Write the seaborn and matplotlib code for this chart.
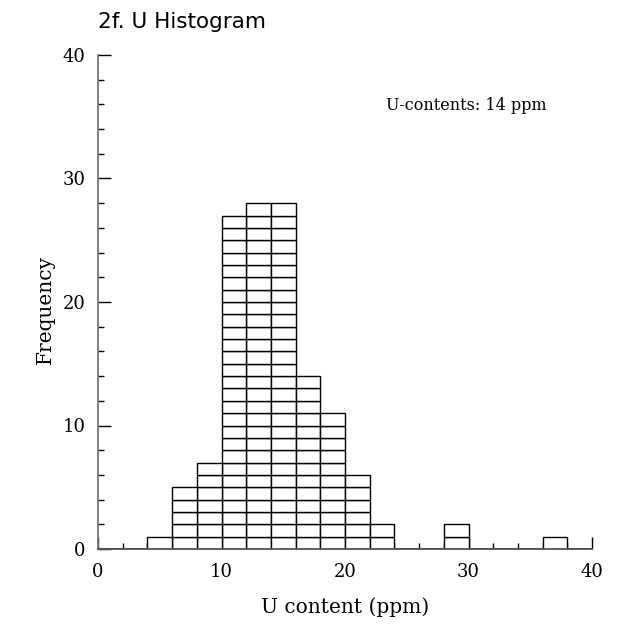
import numpy as np
import pandas as pd
import matplotlib
matplotlib.use("Agg")
import matplotlib.pyplot as plt
import seaborn as sns
from matplotlib.ticker import MultipleLocator

# Histogram of U content: bins of 2 ppm from 0 to 40
bin_edges = [0, 2, 4, 6, 8, 10, 12, 14, 16, 18, 20, 22, 24, 26, 28, 30, 32, 34, 36, 38, 40]
counts = [0, 0, 1, 5, 7, 27, 28, 28, 14, 11, 6, 2, 0, 0, 2, 0, 0, 0, 1, 0]
title = "2f. U Histogram"
note = "U-contents: 14 ppm"
x_label = "U content (ppm)"
y_label = "Frequency"

# One row per sample, placed at its bin centre; "level" is the sample's
# position within the bin so that every sample stacks as its own box.
rows = []
for lo, hi, n in zip(bin_edges[:-1], bin_edges[1:], counts):
    for k in range(n):
        rows.append({"u": (lo + hi) / 2, "level": k})
df = pd.DataFrame(rows)
levels = sorted(df["level"].unique())

sns.set_style("white")
plt.rcParams["font.family"] = ["DejaVu Serif"]
plt.rcParams["text.color"] = "black"
plt.rcParams["axes.labelcolor"] = "black"
plt.rcParams["xtick.color"] = "black"
plt.rcParams["ytick.color"] = "black"

fig = plt.figure(figsize=(6.26, 6.28), dpi=100)
ax = fig.add_axes([98 / 626, 79 / 628, 494 / 626, 494 / 628])

sns.histplot(
    data=df, x="u", hue="level", hue_order=levels,
    bins=bin_edges, multiple="stack", element="bars",
    palette=["white"] * len(levels), edgecolor="black", linewidth=1.0,
    alpha=1, legend=False, ax=ax,
)

ax.set_xlim(0, 40)
ax.set_ylim(0, 40)
ax.xaxis.set_major_locator(MultipleLocator(10))
ax.xaxis.set_minor_locator(MultipleLocator(2))
ax.yaxis.set_major_locator(MultipleLocator(10))
ax.yaxis.set_minor_locator(MultipleLocator(2))

for side in ("top", "right"):
    ax.spines[side].set_visible(False)
ax.spines["left"].set_color("#777777")
ax.spines["left"].set_linewidth(1.3)
ax.spines["bottom"].set_color("#555555")
ax.spines["bottom"].set_linewidth(1.3)

ax.tick_params(which="major", direction="in", length=9, width=1.0, color="black",
               labelcolor="black", labelsize=13, pad=9)
ax.tick_params(which="minor", direction="in", length=4.5, width=1.0, color="black")
ax.tick_params(axis="x", which="major", pad=10)
ax.tick_params(bottom=True, left=True, which="both")
for lbl in ax.get_xticklabels() + ax.get_yticklabels():
    lbl.set_fontweight("light")

ax.set_xlabel(x_label, fontsize=14.5, labelpad=12, color="black")
ax.set_ylabel(y_label, fontsize=14.5, color="black")
ax.yaxis.set_label_coords((55 - 98) / 494, 1 - (310 - 55) / 494)

ax.text(0.583, 1 - (105 - 55) / 494, note, transform=ax.transAxes, fontsize=11.5,
        ha="left", va="center", color="black")

fig.text(98 / 626, 1 - 28 / 628, title, fontsize=15.5, color="black",
         family=["DejaVu Sans"], ha="left", va="baseline")

fig.savefig("out.png", dpi=100, facecolor="white")
